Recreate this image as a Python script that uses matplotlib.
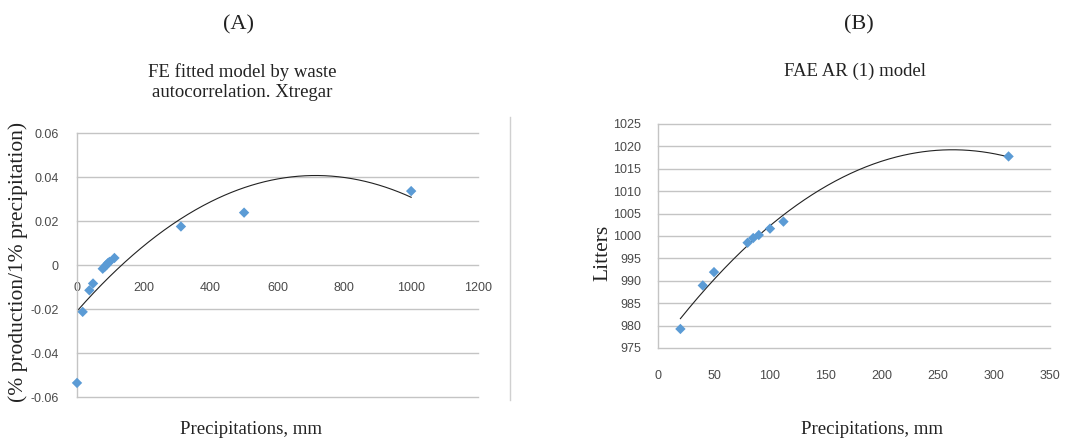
import numpy as np
import matplotlib
matplotlib.use("Agg")
import matplotlib.pyplot as plt

# ---- data ----
a_precip = [0, 17, 37, 48, 77, 83, 88, 92, 97, 112, 311, 500, 1000]
a_effect = [-0.0536, -0.0213, -0.0115, -0.0084, -0.0017, -0.0008, 0.0, 0.0008,
            0.0014, 0.0032, 0.0175, 0.0238, 0.0336]
a_xticks = [0, 200, 400, 600, 800, 1000, 1200]
a_yticks = [-0.06, -0.04, -0.02, 0, 0.02, 0.04, 0.06]
a_yticklabels = ["-0.06", "-0.04", "-0.02", "0", "0.02", "0.04", "0.06"]

b_precip = [20, 40, 50, 80, 85, 90, 100, 112, 313]
b_litters = [979.25, 988.96, 991.94, 998.5, 999.55, 1000.22, 1001.64, 1003.21, 1017.76]
b_xticks = [0, 50, 100, 150, 200, 250, 300, 350]
b_yticks = [975, 980, 985, 990, 995, 1000, 1005, 1010, 1015, 1020, 1025]

W, H = 1078, 441
fig = plt.figure(figsize=(W / 100, H / 100), dpi=100)

serif = ["Liberation Serif", "DejaVu Serif"]
sans = ["Liberation Sans", "DejaVu Sans"]
tick_color = "#4a4a4a"
grid_color = "#c4c4c4"
marker_color = "#5b9bd5"


def px_axes(x0, y0, x1, y1):
    return fig.add_axes([x0 / W, 1 - y1 / H, (x1 - x0) / W, (y1 - y0) / H])


def style(ax):
    ax.set_facecolor("none")
    for s in ["top", "right"]:
        ax.spines[s].set_visible(False)
    ax.spines["left"].set_color(grid_color)
    ax.spines["left"].set_linewidth(1.0)
    ax.yaxis.grid(True, color=grid_color, linewidth=1.0)
    for gl in ax.get_ygridlines():
        gl.set_clip_on(False)
    ax.set_axisbelow(True)
    ax.tick_params(length=0, labelsize=9, colors=tick_color)
    for lab in ax.get_xticklabels() + ax.get_yticklabels():
        lab.set_family(sans)


def trend(ax, x, y):
    c = np.polyfit(x, y, 2)
    xs = np.linspace(min(x), max(x), 300)
    ax.plot(xs, np.polyval(c, xs), color="#222222", linewidth=0.8, zorder=2)


# ---- panel A ----
axA = px_axes(77, 133, 478, 397)
axA.set_xlim(0, 1200)
axA.set_ylim(-0.06, 0.06)
axA.set_xticks(a_xticks)
axA.set_yticks(a_yticks)
axA.set_yticklabels(a_yticklabels)
axA.spines["bottom"].set_position(("data", 0))
axA.spines["bottom"].set_visible(False)
trend(axA, a_precip, a_effect)
axA.scatter(a_precip, a_effect, marker="D", s=28, color=marker_color,
            edgecolors="none", zorder=3, clip_on=False)
style(axA)
axA.tick_params(axis="x", pad=12)
axA.tick_params(axis="y", pad=13)

# ---- panel B ----
axB = px_axes(658, 124, 1050, 348)
axB.set_xlim(0, 350)
axB.set_ylim(975, 1025)
axB.set_xticks(b_xticks)
axB.set_yticks(b_yticks)
axB.spines["bottom"].set_visible(False)
trend(axB, b_precip, b_litters)
axB.scatter(b_precip, b_litters, marker="D", s=28, color=marker_color,
            edgecolors="none", zorder=3, clip_on=False)
style(axB)
axB.tick_params(axis="x", pad=16)
axB.tick_params(axis="y", pad=12)

# chart-area border fragment in panel A
fig.add_artist(plt.Line2D([510 / W, 510 / W], [1 - 117 / H, 1 - 400 / H],
                          color="#d0d0d0", linewidth=1.0))

# ---- texts ----
def ftext(x, y, s, size, **kw):
    fig.text(x / W, 1 - y / H, s, fontsize=size, family=serif, color="#222222",
             ha="center", va="center", **kw)

ftext(239, 25, "(A)", 16)
ftext(859, 25, "(B)", 16)
ftext(242, 82, "FE fitted model by waste\nautocorrelation. Xtregar", 13.5,
      linespacing=1.2)
ftext(855, 71, "FAE AR (1) model", 13.5)
ftext(251, 430, "Precipitations, mm", 13.5)
ftext(872, 430, "Precipitations, mm", 13.5)
ftext(18, 262, "(% production/1% precipitation)", 15.5, rotation=90)
ftext(603, 253, "Litters", 15.5, rotation=90)

fig.savefig("out.png", dpi=100)
